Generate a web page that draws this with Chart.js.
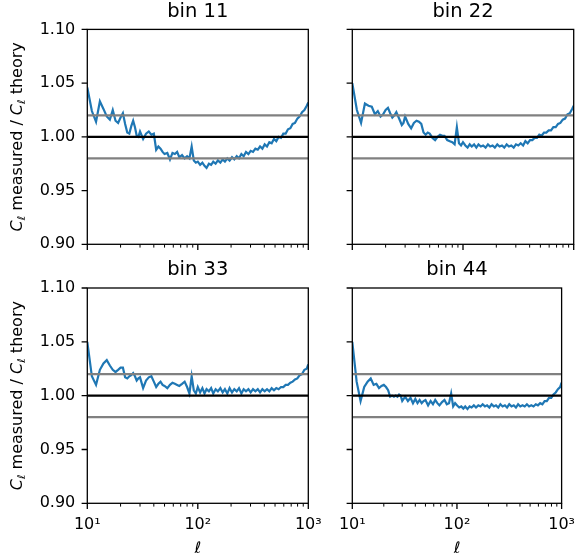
<!DOCTYPE html>
<html>
<head>
<meta charset="utf-8">
<script src="https://cdn.jsdelivr.net/npm/chart.js@4.4.1/dist/chart.umd.min.js"></script>
<style>
  html, body { margin: 0; padding: 0; background: #fff; }
  #wrap { position: relative; width: 587px; height: 560px; }
  #wrap canvas { position: absolute; left: 0; top: 0; }
</style>
</head>
<body>
<div id="wrap">
  <canvas id="bin11" width="587" height="560"></canvas>
  <canvas id="bin22" width="587" height="560"></canvas>
  <canvas id="bin33" width="587" height="560"></canvas>
  <canvas id="bin44" width="587" height="560"></canvas>
</div>
<script>
// multipoles (shared by all panels)
const ells = [10, 11, 12, 13, 14, 15, 16, 17, 18, 19,
  20, 21, 22, 23, 24, 25, 26, 27, 28, 29,
  30, 32, 34, 36, 38, 40, 42, 44, 46, 48,
  50, 53, 56, 59, 62, 65, 68, 72, 76, 80,
  84, 88, 92, 96, 100, 105, 110, 115, 120, 126,
  132, 138, 145, 152, 160, 168, 176, 185, 194, 204,
  214, 225, 236, 248, 260, 273, 287, 301, 316, 332,
  349, 366, 384, 403, 423, 444, 466, 489, 513, 539,
  566, 594, 624, 655, 688, 722, 758, 796, 836, 878,
  922, 968, 1000];

// C_l measured / C_l theory
const ratio11 = [1.046, 1.024, 1.014, 1.033, 1.026, 1.019, 1.016, 1.025, 1.015, 1.013,
  1.018, 1.022, 1.012, 1.004, 1.003, 1.010, 1.015, 1.009, 1.001, 1.000,
  1.005, 0.998, 1.003, 1.005, 1.002, 1.003, 0.988, 0.991, 0.989, 0.986,
  0.984, 0.985, 0.979, 0.985, 0.984, 0.986, 0.981, 0.983, 0.980, 0.982,
  0.980, 0.991, 0.978, 0.976, 0.977, 0.974, 0.976, 0.973, 0.971, 0.975,
  0.974, 0.977, 0.975, 0.978, 0.976, 0.979, 0.977, 0.980, 0.978, 0.981,
  0.979, 0.982, 0.980, 0.984, 0.982, 0.986, 0.984, 0.987, 0.986, 0.989,
  0.988, 0.991, 0.989, 0.993, 0.991, 0.995, 0.994, 0.998, 0.996, 1.000,
  0.999, 1.003, 1.003, 1.007, 1.008, 1.012, 1.013, 1.017, 1.019, 1.023,
  1.025, 1.029, 1.032];

const ratio22 = [1.050, 1.025, 1.013, 1.031, 1.029, 1.028, 1.021, 1.024, 1.019, 1.021,
  1.025, 1.027, 1.022, 1.018, 1.020, 1.023, 1.019, 1.015, 1.011, 1.013,
  1.019, 1.012, 1.008, 1.013, 1.015, 1.014, 1.012, 1.004, 1.002, 1.004,
  1.003, 0.999, 0.997, 1.000, 1.002, 1.001, 1.001, 0.997, 0.996, 0.995,
  0.993, 1.009, 0.994, 0.992, 0.995, 0.992, 0.990, 0.993, 0.991, 0.993,
  0.990, 0.993, 0.991, 0.992, 0.990, 0.993, 0.991, 0.992, 0.990, 0.993,
  0.991, 0.992, 0.990, 0.993, 0.991, 0.992, 0.990, 0.993, 0.992, 0.994,
  0.992, 0.996, 0.994, 0.997, 0.997, 0.999, 0.999, 1.002, 1.001, 1.004,
  1.004, 1.006, 1.006, 1.009, 1.009, 1.012, 1.013, 1.016, 1.017, 1.021,
  1.022, 1.026, 1.029];

const ratio33 = [1.050, 1.018, 1.010, 1.024, 1.030, 1.033, 1.028, 1.024, 1.022, 1.024,
  1.026, 1.026, 1.017, 1.016, 1.018, 1.019, 1.021, 1.018, 1.014, 1.016,
  1.017, 1.007, 1.014, 1.017, 1.018, 1.013, 1.008, 1.011, 1.013, 1.010,
  1.009, 1.007, 1.010, 1.012, 1.011, 1.010, 1.009, 1.011, 1.013, 1.008,
  1.002, 1.018, 1.005, 1.002, 1.008, 1.003, 1.007, 1.002, 1.006, 1.004,
  1.007, 1.002, 1.006, 1.004, 1.007, 1.003, 1.006, 1.002, 1.007, 1.003,
  1.006, 1.004, 1.007, 1.002, 1.006, 1.004, 1.006, 1.003, 1.006, 1.004,
  1.006, 1.003, 1.006, 1.004, 1.006, 1.004, 1.007, 1.005, 1.007, 1.006,
  1.008, 1.008, 1.010, 1.010, 1.012, 1.013, 1.015, 1.016, 1.019, 1.020,
  1.024, 1.025, 1.029];

const ratio44 = [1.050, 1.013, 0.995, 1.008, 1.013, 1.016, 1.010, 1.011, 1.007, 1.009,
  1.010, 1.008, 1.005, 0.999, 1.000, 0.999, 1.000, 0.999, 1.001, 1.000,
  0.995, 0.999, 0.995, 0.998, 0.993, 0.997, 0.993, 0.996, 0.993, 0.995,
  0.996, 0.991, 0.995, 0.992, 0.996, 0.993, 0.991, 0.994, 0.996, 0.992,
  0.993, 1.002, 0.990, 0.993, 0.991, 0.989, 0.990, 0.988, 0.990, 0.9875,
  0.990, 0.989, 0.991, 0.989, 0.991, 0.990, 0.992, 0.990, 0.991, 0.989,
  0.992, 0.990, 0.991, 0.989, 0.992, 0.990, 0.991, 0.989, 0.992, 0.990,
  0.991, 0.989, 0.992, 0.990, 0.991, 0.990, 0.992, 0.990, 0.991, 0.990,
  0.992, 0.991, 0.993, 0.992, 0.995, 0.995, 0.998, 0.998, 1.001, 1.003,
  1.006, 1.008, 1.012];

const bandLines = [1.02, 0.98];
const unityLine = 1.0;
const yTicks = [0.90, 0.95, 1.00, 1.05, 1.10];
const xMajor = [10, 100, 1000];
const xMinor = [20, 30, 40, 50, 60, 70, 80, 90, 200, 300, 400, 500, 600, 700, 800, 900];
const xTickLabels = ['10¹', '10²', '10³'];

Chart.defaults.font.family = '"DejaVu Sans", sans-serif';
Chart.defaults.color = '#000';

// matplotlib-like frame: spines, outward ticks, axis titles
const axesFrame = {
    id: 'axesFrame',
    afterDatasetsDraw(chart, args, opts) {
        const { ctx, chartArea: a, scales: { x, y } } = chart;
        ctx.save();
        ctx.strokeStyle = '#000';
        ctx.lineWidth = 1.3;
        ctx.strokeRect(a.left, a.top, a.width, a.height);

        ctx.beginPath();
        yTicks.forEach(v => {
            const py = y.getPixelForValue(v);
            ctx.moveTo(a.left, py);
            ctx.lineTo(a.left - 5.7, py);
        });
        xMajor.forEach(v => {
            const px = x.getPixelForValue(v);
            ctx.moveTo(px, a.bottom);
            ctx.lineTo(px, a.bottom + 5.7);
        });
        ctx.stroke();

        ctx.lineWidth = 1;
        ctx.beginPath();
        xMinor.forEach(v => {
            const px = x.getPixelForValue(v);
            ctx.moveTo(px, a.bottom);
            ctx.lineTo(px, a.bottom + 3.3);
        });
        ctx.stroke();

        ctx.fillStyle = '#000';
        if (opts.yTitle) {
            const parts = [
                ['C', 'italic 16px "DejaVu Sans"', 0],
                ['ℓ', 'italic 11px "DejaVu Sans"', 3],
                [' measured / ', '16px "DejaVu Sans"', 0],
                ['C', 'italic 16px "DejaVu Sans"', 0],
                ['ℓ', 'italic 11px "DejaVu Sans"', 3],
                [' theory', '16px "DejaVu Sans"', 0]
            ];
            ctx.save();
            ctx.translate(22, (a.top + a.bottom) / 2);
            ctx.rotate(-Math.PI / 2);
            ctx.textAlign = 'left';
            ctx.textBaseline = 'alphabetic';
            let total = 0;
            parts.forEach(p => { ctx.font = p[1]; total += ctx.measureText(p[0]).width; });
            let cx = -total / 2;
            parts.forEach(p => {
                ctx.font = p[1];
                ctx.fillText(p[0], cx, p[2]);
                cx += ctx.measureText(p[0]).width;
            });
            ctx.restore();
        }
        if (opts.xTitle) {
            ctx.font = 'italic 16px "DejaVu Sans"';
            ctx.textAlign = 'center';
            ctx.textBaseline = 'middle';
            ctx.fillText('ℓ', (a.left + a.right) / 2, 549);
        }
        ctx.restore();
    }
};

function hline(value, color) {
    return {
        data: [{ x: 10, y: value }, { x: 1000, y: value }],
        borderColor: color,
        borderWidth: 2.2,
        pointRadius: 0
    };
}

function setupPanel(canvasId, title, values, col, row) {
    const ctx = document.getElementById(canvasId).getContext('2d');
    const left = col === 0;
    const bottom = row === 1;
    const yWidth = left ? 87.3 : 50;

    new Chart(ctx, {
        type: 'line',
        data: {
            datasets: [
                hline(bandLines[0], '#808080'),
                hline(bandLines[1], '#808080'),
                hline(unityLine, '#000000'),
                {
                    data: ells.map((l, i) => ({ x: l, y: values[i] })),
                    borderColor: '#1f77b4',
                    borderWidth: 2.2,
                    pointRadius: 0,
                    tension: 0
                }
            ]
        },
        options: {
            responsive: false,
            animation: false,
            devicePixelRatio: 1,
            layout: {
                padding: {
                    left: left ? 0 : 302.3,
                    right: left ? 278.7 : 13.3,
                    top: bottom ? 258.6 : 0,
                    bottom: bottom ? 16.7 : 275.7
                }
            },
            scales: {
                x: {
                    type: 'logarithmic',
                    min: 10,
                    max: 1000,
                    grid: { display: false, drawTicks: false },
                    border: { display: false },
                    afterBuildTicks: scale => {
                        scale.ticks = xMajor.concat(xMinor).sort((p, q) => p - q)
                            .map(v => ({ value: v, major: xMajor.includes(v) }));
                    },
                    afterFit: scale => { scale.height = 40; },
                    ticks: {
                        autoSkip: false,
                        maxRotation: 0,
                        padding: 12,
                        font: { size: 16 },
                        callback: v => (bottom && xMajor.includes(v)) ? xTickLabels[xMajor.indexOf(v)] : ''
                    }
                },
                y: {
                    min: 0.9,
                    max: 1.1,
                    grid: { display: false, drawTicks: false },
                    border: { display: false },
                    afterBuildTicks: scale => {
                        scale.ticks = yTicks.map(v => ({ value: v }));
                    },
                    afterFit: scale => { scale.width = yWidth; },
                    ticks: {
                        padding: 12,
                        font: { size: 16 },
                        callback: v => left ? v.toFixed(2) : ''
                    }
                }
            },
            plugins: {
                legend: { display: false },
                tooltip: { enabled: false },
                title: {
                    display: true,
                    text: title,
                    fullSize: false,
                    color: '#000',
                    font: { size: 19.5, weight: 'normal' },
                    padding: { top: 0, bottom: 6 }
                },
                axesFrame: { yTitle: left, xTitle: bottom }
            }
        },
        plugins: [axesFrame]
    });
}

setupPanel('bin11', 'bin 11', ratio11, 0, 0);
setupPanel('bin22', 'bin 22', ratio22, 1, 0);
setupPanel('bin33', 'bin 33', ratio33, 0, 1);
setupPanel('bin44', 'bin 44', ratio44, 1, 1);
</script>
</body>
</html>
